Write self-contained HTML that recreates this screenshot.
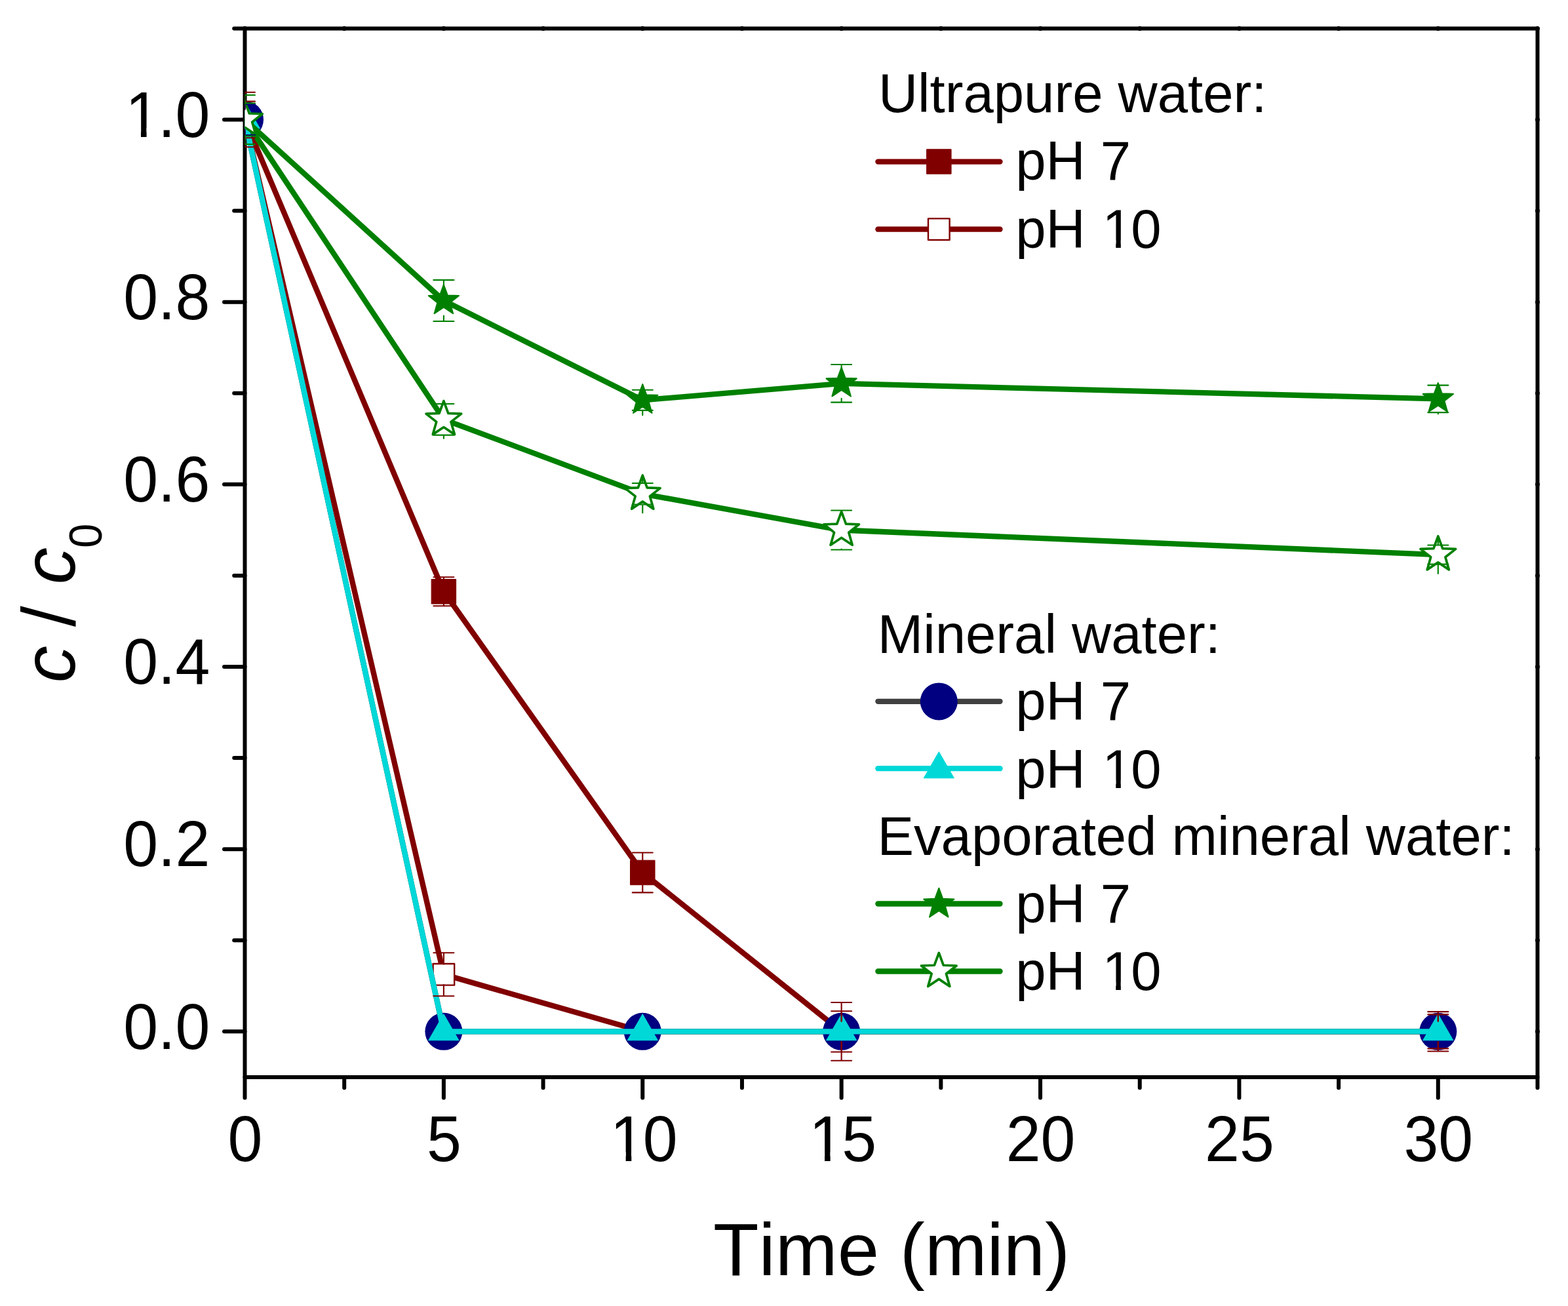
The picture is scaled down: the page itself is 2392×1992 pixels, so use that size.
<!DOCTYPE html>
<html lang="en">
<head>
<meta charset="utf-8">
<title>c / c0 versus time</title>
<style>
html,body{margin:0;padding:0;background:#fff;}
body{width:2392px;height:1992px;overflow:hidden;}
svg{display:block;}
text{font-family:"Liberation Sans",Arial,Helvetica,sans-serif;fill:#000;font-kerning:none;}
.tk{font-size:95px;}
.ti{font-size:114.5px;}
.lg{font-size:83.3px;}
.ax{stroke:#000;stroke-width:6;stroke-linecap:round;fill:none;}
.ln{stroke-width:8.33;stroke-linecap:round;stroke-linejoin:round;fill:none;}
.eb{stroke-width:2.1;stroke-linecap:round;fill:none;}
</style>
</head>
<body>
<svg width="2392" height="1992" viewBox="0 0 2392 1992">
<defs><clipPath id="plot"><rect x="373.5" y="43.4" width="1972" height="1599.5"/></clipPath></defs>
<rect x="0" y="0" width="2392" height="1992" fill="#fff"/>
<g class="ax">
<path d="M373.5 43.4H2345.5V1642.9H373.5Z" stroke-linejoin="round"/>
<path d="M373.5 1573.36H342"/>
<path d="M373.5 1434.27H357.2"/>
<path d="M373.5 1295.18H342"/>
<path d="M373.5 1156.1H357.2"/>
<path d="M373.5 1017.01H342"/>
<path d="M373.5 877.92H357.2"/>
<path d="M373.5 738.83H342"/>
<path d="M373.5 599.75H357.2"/>
<path d="M373.5 460.66H342"/>
<path d="M373.5 321.57H357.2"/>
<path d="M373.5 182.49H342"/>
<path d="M373.5 43.4H357.2"/>
<path d="M373.5 1642.9V1674.4"/>
<path d="M525.19 1642.9V1659.2"/>
<path d="M676.88 1642.9V1674.4"/>
<path d="M828.58 1642.9V1659.2"/>
<path d="M980.27 1642.9V1674.4"/>
<path d="M1131.96 1642.9V1659.2"/>
<path d="M1283.65 1642.9V1674.4"/>
<path d="M1435.35 1642.9V1659.2"/>
<path d="M1587.04 1642.9V1674.4"/>
<path d="M1738.73 1642.9V1659.2"/>
<path d="M1890.42 1642.9V1674.4"/>
<path d="M2042.12 1642.9V1659.2"/>
<path d="M2193.81 1642.9V1674.4"/>
<path d="M2345.5 1642.9V1659.2"/>
</g>
<path d="M373.5 43.4h0M525.19 43.4h0M676.88 43.4h0M828.58 43.4h0M980.27 43.4h0M1131.96 43.4h0M1283.65 43.4h0M1435.35 43.4h0M1587.04 43.4h0M1738.73 43.4h0M1890.42 43.4h0M2042.12 43.4h0M2193.81 43.4h0M2345.5 43.4h0M2345.5 1573.36h0M2345.5 1434.27h0M2345.5 1295.18h0M2345.5 1156.1h0M2345.5 1017.01h0M2345.5 877.92h0M2345.5 738.83h0M2345.5 599.75h0M2345.5 460.66h0M2345.5 321.57h0M2345.5 182.49h0M2345.5 43.4h0" stroke="#000" stroke-width="7" stroke-linecap="round" fill="none"/>
<g class="tk">
<g transform="translate(188.24 1599.66) scale(1 1.04)"><text style="font-size:95px">0.0</text></g>
<g transform="translate(188.24 1321.48) scale(1 1.04)"><text style="font-size:95px">0.2</text></g>
<g transform="translate(188.24 1043.31) scale(1 1.04)"><text style="font-size:95px">0.4</text></g>
<g transform="translate(188.24 765.13) scale(1 1.04)"><text style="font-size:95px">0.6</text></g>
<g transform="translate(188.24 486.96) scale(1 1.04)"><text style="font-size:95px">0.8</text></g>
<g transform="translate(188.24 208.79) scale(1 1.04)"><text style="font-size:95px"><tspan dx="2.94">1</tspan><tspan dx="-2.94">.0</tspan></text><rect x="7.12" y="-13.3" width="19.6" height="16.15" fill="#fff"/><rect x="35.35" y="-13.3" width="18.86" height="16.15" fill="#fff"/></g>
</g>
<g class="tk">
<g transform="translate(347.58 1771) scale(1 1.04)"><text style="font-size:95px">0</text></g>
<g transform="translate(650.97 1771) scale(1 1.04)"><text style="font-size:95px">5</text></g>
<g transform="translate(927.93 1771) scale(1 1.04)"><text style="font-size:95px"><tspan dx="2.94">1</tspan><tspan dx="-2.94">0</tspan></text><rect x="7.12" y="-13.3" width="19.6" height="16.15" fill="#fff"/><rect x="35.35" y="-13.3" width="18.86" height="16.15" fill="#fff"/></g>
<g transform="translate(1231.32 1771) scale(1 1.04)"><text style="font-size:95px"><tspan dx="2.94">1</tspan><tspan dx="-2.94">5</tspan></text><rect x="7.12" y="-13.3" width="19.6" height="16.15" fill="#fff"/><rect x="35.35" y="-13.3" width="18.86" height="16.15" fill="#fff"/></g>
<g transform="translate(1534.7 1771) scale(1 1.04)"><text style="font-size:95px">20</text></g>
<g transform="translate(1838.09 1771) scale(1 1.04)"><text style="font-size:95px">25</text></g>
<g transform="translate(2141.47 1771) scale(1 1.04)"><text style="font-size:95px">30</text></g>
</g>
<text class="ti" style="font-size:113.9px" x="1088" y="1944.8">Time (min)</text>
<text class="ti" style="font-size:112.3px;font-style:italic" transform="translate(114.3 1041.2) rotate(-90)">c</text>
<text class="ti" transform="translate(114.3 956.1) rotate(-90)">/</text>
<text class="ti" style="font-size:112.3px;font-style:italic" transform="translate(114.3 891.3) rotate(-90)">c</text>
<text class="ti" style="font-size:69px" transform="translate(154.9 835.8) rotate(-90) scale(0.97 1.02)">0</text>
<g clip-path="url(#plot)">
<polyline class="ln" stroke="#800000" points="373.5,182.49 676.88,902.26 980.27,1330.93 1283.65,1573.36 2193.81,1573.36"/>
<rect x="354.75" y="163.74" width="37.5" height="37.5" fill="#800000" stroke="#800000" stroke-width="1" stroke-linejoin="round"/>
<rect x="658.13" y="883.51" width="37.5" height="37.5" fill="#800000" stroke="#800000" stroke-width="1" stroke-linejoin="round"/>
<rect x="961.52" y="1312.18" width="37.5" height="37.5" fill="#800000" stroke="#800000" stroke-width="1" stroke-linejoin="round"/>
<rect x="1264.9" y="1554.61" width="37.5" height="37.5" fill="#800000" stroke="#800000" stroke-width="1" stroke-linejoin="round"/>
<rect x="2175.06" y="1554.61" width="37.5" height="37.5" fill="#800000" stroke="#800000" stroke-width="1" stroke-linejoin="round"/>
<polyline class="ln" stroke="#800000" points="373.5,182.49 676.88,1486.29 980.27,1573.36 1283.65,1573.36 2193.81,1573.36"/>
<rect x="357.2" y="166.19" width="32.6" height="32.6" fill="#fff" stroke="#800000" stroke-width="2.4" stroke-linejoin="round"/>
<rect x="660.58" y="1469.99" width="32.6" height="32.6" fill="#fff" stroke="#800000" stroke-width="2.4" stroke-linejoin="round"/>
<rect x="963.97" y="1557.06" width="32.6" height="32.6" fill="#fff" stroke="#800000" stroke-width="2.4" stroke-linejoin="round"/>
<rect x="1267.35" y="1557.06" width="32.6" height="32.6" fill="#fff" stroke="#800000" stroke-width="2.4" stroke-linejoin="round"/>
<rect x="2177.51" y="1557.06" width="32.6" height="32.6" fill="#fff" stroke="#800000" stroke-width="2.4" stroke-linejoin="round"/>
<polyline class="ln" stroke="#404040" points="373.5,182.49 676.88,1573.36 980.27,1573.36 1283.65,1573.36 2193.81,1573.36"/>
<circle cx="373.5" cy="182.49" r="28.5" fill="#000080"/>
<circle cx="676.88" cy="1573.36" r="28.5" fill="#000080"/>
<circle cx="980.27" cy="1573.36" r="28.5" fill="#000080"/>
<circle cx="1283.65" cy="1573.36" r="28.5" fill="#000080"/>
<circle cx="2193.81" cy="1573.36" r="28.5" fill="#000080"/>
<polyline class="ln" stroke="#00d8d8" points="373.5,182.49 676.88,1573.36 980.27,1573.36 1283.65,1573.36 2193.81,1573.36"/>
<polygon points="373.5,155.79 396.6,195.89 350.4,195.89" fill="#00d8d8" stroke="#00d8d8" stroke-width="1" stroke-linejoin="round"/>
<polygon points="676.88,1546.66 699.98,1586.76 653.78,1586.76" fill="#00d8d8" stroke="#00d8d8" stroke-width="1" stroke-linejoin="round"/>
<polygon points="980.27,1546.66 1003.37,1586.76 957.17,1586.76" fill="#00d8d8" stroke="#00d8d8" stroke-width="1" stroke-linejoin="round"/>
<polygon points="1283.65,1546.66 1306.75,1586.76 1260.55,1586.76" fill="#00d8d8" stroke="#00d8d8" stroke-width="1" stroke-linejoin="round"/>
<polygon points="2193.81,1546.66 2216.91,1586.76 2170.71,1586.76" fill="#00d8d8" stroke="#00d8d8" stroke-width="1" stroke-linejoin="round"/>
<polyline class="ln" stroke="#008000" points="373.5,182.49 676.88,458.57 980.27,610.32 1283.65,584.87 2193.81,608.37"/>
<polygon points="373.5,158.19 379.43,174.33 396.61,174.98 383.09,185.6 387.78,202.15 373.5,192.57 359.22,202.15 363.91,185.6 350.39,174.98 367.57,174.33" fill="#008000" stroke="#008000" stroke-width="2" stroke-linejoin="round"/>
<polygon points="676.88,434.27 682.81,450.42 700,451.07 686.48,461.69 691.17,478.23 676.88,468.66 662.6,478.23 667.29,461.69 653.77,451.07 670.96,450.42" fill="#008000" stroke="#008000" stroke-width="2" stroke-linejoin="round"/>
<polygon points="980.27,586.02 986.2,602.16 1003.38,602.81 989.86,613.43 994.55,629.98 980.27,620.4 965.99,629.98 970.68,613.43 957.16,602.81 974.34,602.16" fill="#008000" stroke="#008000" stroke-width="2" stroke-linejoin="round"/>
<polygon points="1283.65,560.57 1289.58,576.71 1306.76,577.36 1293.24,587.98 1297.94,604.52 1283.65,594.95 1269.37,604.52 1274.06,587.98 1260.54,577.36 1277.73,576.71" fill="#008000" stroke="#008000" stroke-width="2" stroke-linejoin="round"/>
<polygon points="2193.81,584.07 2199.74,600.21 2216.92,600.86 2203.4,611.49 2208.09,628.03 2193.81,618.46 2179.52,628.03 2184.22,611.49 2170.7,600.86 2187.88,600.21" fill="#008000" stroke="#008000" stroke-width="2" stroke-linejoin="round"/>
<polyline class="ln" stroke="#008000" points="373.5,182.49 676.88,639.8 980.27,753.3 1283.65,808.52 2193.81,846.07"/>
<polygon points="373.5,154.29 380.38,173.02 400.32,173.77 384.63,186.1 390.08,205.3 373.5,194.19 356.92,205.3 362.37,186.1 346.68,173.77 366.62,173.02" fill="#fff" stroke="#008000" stroke-width="3.7" stroke-linejoin="round"/>
<polygon points="676.88,611.6 683.76,630.34 703.7,631.09 688.01,643.42 693.46,662.62 676.88,651.51 660.31,662.62 665.75,643.42 650.06,631.09 670.01,630.34" fill="#fff" stroke="#008000" stroke-width="3.7" stroke-linejoin="round"/>
<polygon points="980.27,725.1 987.15,743.83 1007.09,744.59 991.4,756.92 996.84,776.11 980.27,765 963.69,776.11 969.14,756.92 953.45,744.59 973.39,743.83" fill="#fff" stroke="#008000" stroke-width="3.7" stroke-linejoin="round"/>
<polygon points="1283.65,780.32 1290.53,799.05 1310.47,799.8 1294.78,812.13 1300.23,831.33 1283.65,820.22 1267.08,831.33 1272.52,812.13 1256.83,799.8 1276.77,799.05" fill="#fff" stroke="#008000" stroke-width="3.7" stroke-linejoin="round"/>
<polygon points="2193.81,817.87 2200.69,836.6 2220.63,837.36 2204.94,849.69 2210.38,868.89 2193.81,857.77 2177.23,868.89 2182.68,849.69 2166.99,837.36 2186.93,836.6" fill="#fff" stroke="#008000" stroke-width="3.7" stroke-linejoin="round"/>
<path class="eb" stroke="#800000" d="M358 140.76H389M373.5 166.79V140.76M358 224.21H389M373.5 198.19V224.21M661.38 880.29H692.38M676.88 886.56V880.29M661.38 924.24H692.38M676.88 917.96V924.24M964.77 1300.47H995.77M980.27 1315.23V1300.47M964.77 1361.39H995.77M980.27 1346.63V1361.39M1268.15 1528.99H1299.15M1283.65 1557.66V1528.99M1268.15 1617.73H1299.15M1283.65 1589.06V1617.73M2178.31 1543.17H2209.31M2193.81 1557.66V1543.17M2178.31 1603.54H2209.31M2193.81 1589.06V1603.54"/>
<path class="eb" stroke="#800000" d="M358 154.67H389M373.5 166.79V154.67M358 210.3H389M373.5 198.19V210.3M661.38 1453.32H692.38M676.88 1470.59V1453.32M661.38 1519.25H692.38M676.88 1501.99V1519.25M1268.15 1542.2H1299.15M1283.65 1557.66V1542.2M1268.15 1604.51H1299.15M1283.65 1589.06V1604.51M2178.31 1547.35H2209.31M2193.81 1557.66V1547.35M2178.31 1599.37H2209.31M2193.81 1589.06V1599.37"/>
<path class="eb" stroke="#000080" d="M358 158.84H389M373.5 166.79V158.84M358 206.13H389M373.5 198.19V206.13"/>
<path class="eb" stroke="#008000" d="M358 144.93H389M373.5 159.49V144.93M358 220.04H389M373.5 205.49V220.04M661.38 427.14H692.38M676.88 435.57V427.14M661.38 490.01H692.38M676.88 481.57V490.01M964.77 594.74H995.77M980.27 587.32V594.74M964.77 625.9H995.77M980.27 633.32V625.9M1268.15 556.07H1299.15M1283.65 561.87V556.07M1268.15 613.66H1299.15M1283.65 607.87V613.66M2178.31 587.65H2209.31M2193.81 585.37V587.65M2178.31 629.1H2209.31M2193.81 631.37V629.1"/>
<path class="eb" stroke="#008000" d="M358 157.45H389M373.5 153.49V157.45M358 207.52H389M373.5 211.49V207.52M661.38 616.02H692.38M676.88 610.8V616.02M661.38 663.59H692.38M676.88 668.8V663.59M964.77 737.03H995.77M980.27 724.3V737.03M964.77 769.57H995.77M980.27 782.3V769.57M1268.15 778.47H1299.15M1283.65 779.52V778.47M1268.15 838.56H1299.15M1283.65 837.52V838.56M2178.31 831.47H2209.31M2193.81 817.07V831.47M2178.31 860.67H2209.31M2193.81 875.07V860.67"/>
</g>
<text class="lg" x="1339.9" y="171.4">Ultrapure water:</text>
<path class="ln" stroke="#800000" d="M1339.4 246.6H1525.5"/>
<rect x="1413.55" y="227.75" width="37.5" height="37.5" fill="#800000" stroke="#800000" stroke-width="1" stroke-linejoin="round"/>
<g transform="translate(1549.2 274.4)"><text style="font-size:83.3px">pH 7</text></g>
<path class="ln" stroke="#800000" d="M1339.4 349.7H1525.5"/>
<rect x="1416" y="333.4" width="32.6" height="32.6" fill="#fff" stroke="#800000" stroke-width="2.4" stroke-linejoin="round"/>
<g transform="translate(1549.2 377.8)"><text style="font-size:83.3px">pH <tspan dx="2.58">1</tspan><tspan dx="-2.58">0</tspan></text><rect x="135.87" y="-11.66" width="17.18" height="14.16" fill="#fff"/><rect x="160.62" y="-11.66" width="16.53" height="14.16" fill="#fff"/></g>
<text class="lg" x="1338.8" y="996.3">Mineral water:</text>
<path class="ln" stroke="#404040" d="M1339.4 1069.8H1525.5"/>
<circle cx="1432.3" cy="1069.9" r="28.5" fill="#000080"/>
<g transform="translate(1549.2 1098.1)"><text style="font-size:83.3px">pH 7</text></g>
<path class="ln" stroke="#00d8d8" d="M1339.4 1172.2H1525.5"/>
<polygon points="1432.3,1146.7 1455.4,1186.8 1409.2,1186.8" fill="#00d8d8" stroke="#00d8d8" stroke-width="1" stroke-linejoin="round"/>
<g transform="translate(1549.2 1201.7)"><text style="font-size:83.3px">pH <tspan dx="2.58">1</tspan><tspan dx="-2.58">0</tspan></text><rect x="135.87" y="-11.66" width="17.18" height="14.16" fill="#fff"/><rect x="160.62" y="-11.66" width="16.53" height="14.16" fill="#fff"/></g>
<text class="lg" x="1338.4" y="1304.1">Evaporated mineral water:</text>
<path class="ln" stroke="#008000" d="M1339.4 1378.5H1525.5"/>
<polygon points="1432.3,1354.7 1438.23,1370.84 1455.41,1371.49 1441.89,1382.12 1446.58,1398.66 1432.3,1389.08 1418.02,1398.66 1422.71,1382.12 1409.19,1371.49 1426.37,1370.84" fill="#008000" stroke="#008000" stroke-width="2" stroke-linejoin="round"/>
<g transform="translate(1549.2 1406.5)"><text style="font-size:83.3px">pH 7</text></g>
<path class="ln" stroke="#008000" d="M1339.4 1481.5H1525.5"/>
<polygon points="1432.3,1453.5 1439.18,1472.23 1459.12,1472.99 1443.43,1485.32 1448.88,1504.51 1432.3,1493.4 1415.72,1504.51 1421.17,1485.32 1405.48,1472.99 1425.42,1472.23" fill="#fff" stroke="#008000" stroke-width="3.7" stroke-linejoin="round"/>
<g transform="translate(1549.2 1509.5)"><text style="font-size:83.3px">pH <tspan dx="2.58">1</tspan><tspan dx="-2.58">0</tspan></text><rect x="135.87" y="-11.66" width="17.18" height="14.16" fill="#fff"/><rect x="160.62" y="-11.66" width="16.53" height="14.16" fill="#fff"/></g>
</svg>
</body>
</html>
